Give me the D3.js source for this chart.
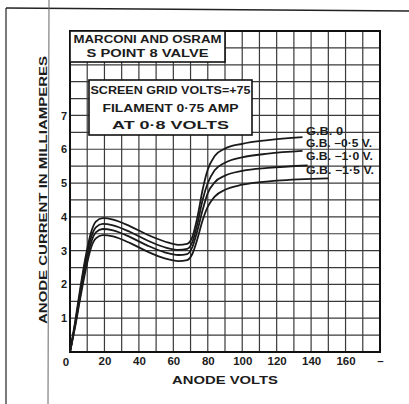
<!DOCTYPE html>
<html><head><meta charset="utf-8">
<script src="https://cdn.jsdelivr.net/npm/d3@7"></script>
<style>
html,body{margin:0;padding:0;background:#fff;}
svg{display:block;}
text{font-family:"Liberation Sans",Arial,sans-serif;font-weight:bold;fill:#1c1c1c;}
</style></head>
<body>
<svg id="c" width="409" height="404"></svg>
<script>
// ---- data (anode volts, anode current mA) ----
const gb0  = [[0,0],[3,0.9],[6,1.9],[9,2.8],[12,3.5],[15,3.86],[19,3.96],[25,3.92],[35,3.72],[45,3.47],[55,3.27],[63,3.17],[68,3.2],[71,3.4],[74,4.0],[77,4.8],[80,5.4],[84,5.8],[90,6.02],[100,6.16],[115,6.27],[135,6.36]];
const gbM05 = [[0,0],[3,0.85],[6,1.8],[9,2.7],[12,3.35],[15,3.69],[19,3.79],[25,3.75],[35,3.55],[45,3.3],[55,3.1],[63,3.02],[68,3.05],[71,3.25],[74,3.8],[77,4.5],[80,5.0],[84,5.38],[90,5.6],[100,5.76],[115,5.87],[135,5.95]];
const gbM10 = [[0,0],[3,0.8],[6,1.7],[9,2.55],[12,3.2],[15,3.54],[19,3.64],[25,3.6],[35,3.4],[45,3.15],[55,2.95],[63,2.87],[68,2.9],[71,3.1],[74,3.6],[77,4.2],[80,4.7],[84,5.02],[90,5.22],[100,5.36],[115,5.45],[138,5.52]];
const gbM15 = [[0,0],[3,0.75],[6,1.6],[9,2.4],[12,3.05],[15,3.36],[19,3.46],[25,3.42],[35,3.22],[45,2.97],[55,2.77],[63,2.69],[68,2.72],[71,2.9],[74,3.35],[77,3.9],[80,4.3],[84,4.6],[90,4.8],[100,4.95],[120,5.07],[150,5.14]];
const seriesNames = ["G.B.  0", "G.B. −0·5 V.", "G.B. −1·0 V.", "G.B. −1·5 V."];
const xTickValues = [20,40,60,80,100,120,140,160,180];
const xTickLabels = ["20","40","60","80","100","120","140","160","–"];
const yTickValues = [1,2,3,4,5,6,7];
const yTickLabels = ["1","2","3","4","5","6","7"];
const box1Lines = ["MARCONI AND OSRAM","S POINT 8 VALVE"];
const box2Lines = ["SCREEN GRID VOLTS=+75","FILAMENT 0·75 AMP","AT 0·8 VOLTS"];

const svg = d3.select("#c");
const x = d3.scaleLinear().domain([0,180]).range([70,380]);
const y = d3.scaleLinear().domain([0,9.5]).range([352,31]);

// outer frame lines of the scan
svg.append("line").attr("x1",6).attr("y1",8).attr("x2",6).attr("y2",404).attr("stroke","#333").attr("stroke-width",1.3);
svg.append("line").attr("x1",6).attr("y1",8).attr("x2",409).attr("y2",11).attr("stroke","#222").attr("stroke-width",1.4);
svg.append("line").attr("x1",49).attr("y1",0).attr("x2",48).attr("y2",404).attr("stroke","#666").attr("stroke-width",1);

// grid
const g = svg.append("g");
g.selectAll("line.v").data(d3.range(0,181,10)).join("line")
  .attr("x1",d=>x(d)).attr("x2",d=>x(d)).attr("y1",y(0)).attr("y2",y(9.5))
  .attr("stroke","#3a3a3a").attr("stroke-width",1.2);
g.selectAll("line.h").data(d3.range(0,9.51,0.5)).join("line")
  .attr("y1",d=>y(d)).attr("y2",d=>y(d)).attr("x1",x(0)).attr("x2",x(180))
  .attr("stroke","#3a3a3a").attr("stroke-width",1.2);
// plot border
svg.append("rect").attr("x",x(0)).attr("y",y(9.5)).attr("width",x(180)-x(0)).attr("height",y(0)-y(9.5))
  .attr("fill","none").attr("stroke","#111").attr("stroke-width",2);

// curves
const line = d3.line().x(d=>x(d[0])).y(d=>y(d[1])).curve(d3.curveMonotoneX);
[gb0,gbM05,gbM10,gbM15].forEach(s=>{
  svg.append("path").attr("d",line(s)).attr("fill","none").attr("stroke","#1a1a1a").attr("stroke-width",1.8);
});

// title boxes
function box(x0,y0,x1,y1,lines,rows,lens){
  svg.append("rect").attr("x",x0).attr("y",y0).attr("width",x1-x0).attr("height",y1-y0)
    .attr("fill","#fff").attr("stroke","#111").attr("stroke-width",1.6);
  lines.forEach((t,i)=>{
    svg.append("text").attr("x",(x0+x1)/2).attr("y",rows[i]).attr("text-anchor","middle")
      .attr("font-size",11).attr("textLength",lens[i]).attr("lengthAdjust","spacingAndGlyphs").text(t);
  });
}
box(x(0),y(9.5),225,62,box1Lines,[42.5,57],[148,122]);
box(89,80,252,135,box2Lines,[94,112,129],[160,136,117]);

// series labels
const labY = [135,147,160,174];
const labLen = [37,66,67,68];
seriesNames.forEach((t,i)=>{
  svg.append("text").attr("x",306).attr("y",labY[i]).attr("font-size",10.5)
    .attr("textLength",labLen[i]).attr("lengthAdjust","spacingAndGlyphs").text(t);
});

// axes
const xa = svg.append("g").attr("transform",`translate(0,${y(0)})`)
  .call(d3.axisBottom(x).tickValues(xTickValues).tickSize(0).tickPadding(5)
    .tickFormat((d,i)=>xTickLabels[i]));
xa.select(".domain").remove();
xa.selectAll("text").attr("font-size",11.5).attr("font-family","Liberation Sans, Arial").attr("font-weight","bold").attr("fill","#1c1c1c");
svg.append("text").attr("x",x(0)-4).attr("y",365.5).attr("text-anchor","middle").attr("font-size",11.5).text("0");

const ya = svg.append("g").attr("transform",`translate(${x(0)},0)`)
  .call(d3.axisLeft(y).tickValues(yTickValues).tickSize(0).tickPadding(3)
    .tickFormat((d,i)=>yTickLabels[i]));
ya.select(".domain").remove();
ya.selectAll("text").attr("font-size",11).attr("font-family","Liberation Sans, Arial").attr("font-weight","bold").attr("fill","#1c1c1c");

svg.append("text").attr("x",225).attr("y",384).attr("text-anchor","middle").attr("font-size",11)
  .attr("textLength",106).attr("lengthAdjust","spacingAndGlyphs").text("ANODE  VOLTS");
svg.append("text").attr("transform","translate(47,190) rotate(-90)").attr("text-anchor","middle").attr("font-size",11)
  .attr("textLength",268).attr("lengthAdjust","spacingAndGlyphs").text("ANODE  CURRENT  IN  MILLIAMPERES");
</script>
</body></html>
